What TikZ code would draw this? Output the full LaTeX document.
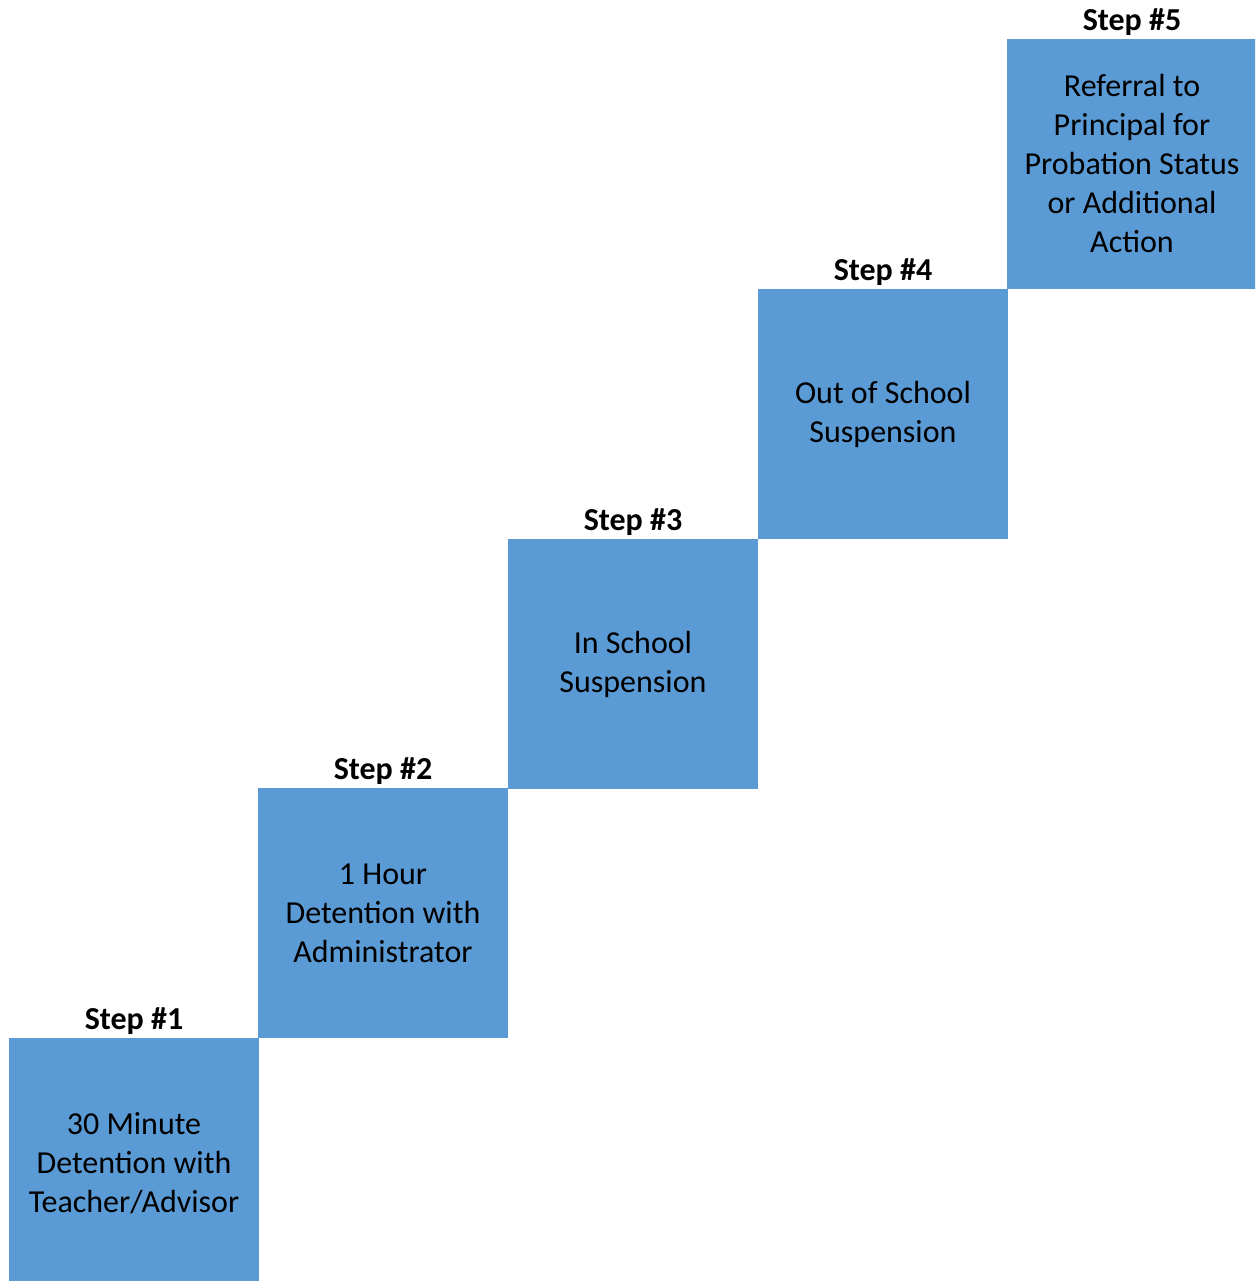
\documentclass[tikz,border=0pt]{standalone}
\usepackage{fontspec}
\setmainfont{Carlito}
\definecolor{stepblue}{HTML}{5B9BD5}
\tikzset{
  stair/.style={fill=stepblue, draw=none, minimum width=250pt, minimum height=250pt, inner sep=0pt, align=center, font=\fontsize{32}{39}\selectfont},
  steplabel/.style={font=\fontsize{32}{37}\selectfont\bfseries, inner sep=0pt}
}
\begin{document}
\begin{tikzpicture}[x=1pt,y=-1pt]
\clip (0,0) rectangle (1255,1281);
\node[stair] (b1) at (134,1163) {30 Minute\\Detention with\\Teacher/Advisor};
\node[stair] (b2) at (383,913) {1 Hour\\Detention with\\Administrator};
\node[stair] (b3) at (633,664) {In School\\Suspension};
\node[stair] (b4) at (883,414) {Out of School\\Suspension};
\node[stair] (b5) at (1132,164) {Referral to\\Principal for\\Probation Status\\or Additional\\Action};
\foreach \i in {1,...,5}{
  \node[steplabel] (l\i) at ([yshift=17pt]b\i.north) {Step \#\i};
}
\end{tikzpicture}
\end{document}
